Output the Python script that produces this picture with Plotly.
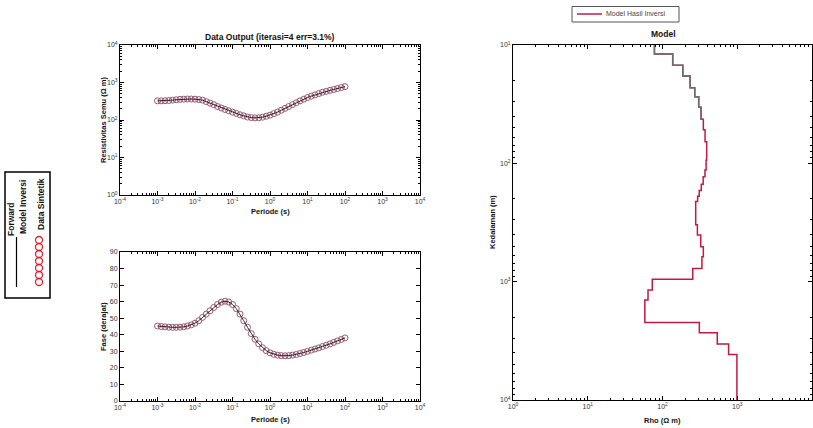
import plotly.graph_objects as go

# ---------------- data ----------------
periods = [
    0.001000, 0.001259, 0.001585, 0.001995, 0.002512, 0.003162, 0.003981, 0.005012, 0.006310, 0.007943,
    0.01000, 0.01259, 0.01585, 0.01995, 0.02512, 0.03162, 0.03981, 0.05012, 0.06310, 0.07943,
    0.1000, 0.1259, 0.1585, 0.1995, 0.2512, 0.3162, 0.3981, 0.5012, 0.6310, 0.7943,
    1.000, 1.259, 1.585, 1.995, 2.512, 3.162, 3.981, 5.012, 6.310, 7.943,
    10.00, 12.59, 15.85, 19.95, 25.12, 31.62, 39.81, 50.12, 63.10, 79.43,
    100.0,
]
app_res = [
    324, 324, 327, 331, 339, 347, 355, 359, 363, 363,
    359, 351, 339, 309, 282, 257, 229, 209, 191, 176,
    162, 150, 138, 129, 120, 116, 114, 115, 119, 126,
    135, 148, 162, 182, 204, 229, 257, 288, 324, 359,
    398, 432, 468, 507, 550, 582, 617, 653, 692, 733,
    776,
]
phase = [
    45.3, 45.0, 44.8, 44.6, 44.5, 44.5, 44.6, 44.8, 45.3, 46.0,
    47.0, 48.5, 50.5, 52.5, 54.5, 56.5, 58.3, 59.7, 60.3, 59.8,
    58.3, 55.8, 52.5, 48.5, 44.5, 40.7, 37.3, 34.5, 32.2, 30.4,
    29.1, 28.2, 27.7, 27.4, 27.3, 27.4, 27.7, 28.1, 28.7, 29.3,
    30.0, 30.7, 31.4, 32.1, 32.9, 33.7, 34.5, 35.4, 36.3, 37.2,
    38.1,
]
# forward response of the inverted model (drawn as line)
app_res_fwd = app_res
phase_fwd = phase

# layered model: top depth of each layer (m) and resistivity (ohm m)
layer_top = [10, 11.9, 14.8, 18.3, 23, 27.4, 33.6, 42.5, 52, 65.6,
             94, 114, 130, 150, 170, 190, 210, 330, 403, 507,
             616, 773, 955, 1177, 1430, 2210, 2700, 3370, 4120]
layer_rho = [78, 137, 187, 234, 270, 305, 328, 352, 371, 390,
             383, 370, 350, 330, 310, 295, 278, 293, 325, 352,
             337, 254, 73, 64, 58, 311, 540, 766, 990]
model_bottom = 10000

period_exps = [-4, -3, -2, -1, 0, 1, 2, 3, 4]
res_exps = [0, 1, 2, 3, 4]
rho_exps = [0, 1, 2, 3, 4]
depth_exps = [1, 2, 3, 4]
phase_ticks = [0, 10, 20, 30, 40, 50, 60, 70, 80, 90]

title_left = "Data Output (iterasi=4 err=3.1%)"
title_right = "Model"

W, H = 813, 428
FONT = "Liberation Sans, Arial, sans-serif"
RED = "#c01a45"


def px(x):
    return x / W


def py(y):
    return 1 - y / H


def pow_ticks(exps):
    return [10.0 ** e for e in exps], [f"10<sup>{e}</sup>" for e in exps]


def minor_vals(exps):
    return [m * 10.0 ** e for e in exps[:-1] for m in range(2, 10)]


fig = go.Figure()

# ---- apparent resistivity ----
fig.add_trace(go.Scatter(x=periods, y=app_res, mode="markers",
                         marker=dict(symbol="circle-open", size=6, color="#9a5a72",
                                     line=dict(width=1)),
                         xaxis="x", yaxis="y", showlegend=False, name="Data Sintetik"))
fig.add_trace(go.Scatter(x=periods, y=app_res_fwd, mode="lines",
                         line=dict(color="black", width=0.8),
                         xaxis="x", yaxis="y", showlegend=False, name="Forward Model Inversi"))
# ---- phase ----
fig.add_trace(go.Scatter(x=periods, y=phase, mode="markers",
                         marker=dict(symbol="circle-open", size=6, color="#9a5a72",
                                     line=dict(width=1)),
                         xaxis="x2", yaxis="y2", showlegend=False, name="Data Sintetik"))
fig.add_trace(go.Scatter(x=periods, y=phase_fwd, mode="lines",
                         line=dict(color="black", width=0.8),
                         xaxis="x2", yaxis="y2", showlegend=False, name="Forward Model Inversi"))

# ---- model ----
mx = layer_rho + [layer_rho[-1]]
my = layer_top + [model_bottom]
fig.add_trace(go.Scatter(x=mx, y=my, mode="lines", line_shape="vh",
                         line=dict(color=RED, width=1.5),
                         xaxis="x3", yaxis="y3", showlegend=False,
                         name="Model Hasil Inversi"))
fig.add_trace(go.Scatter(x=mx[:8], y=my[:8], mode="lines", line_shape="vh",
                         line=dict(color="#6e6e6e", width=1.5),
                         xaxis="x3", yaxis="y3", showlegend=False, name="Model"))

axis_common = dict(showline=True, linecolor="black", linewidth=1, mirror="allticks",
                   ticks="inside", ticklen=4, tickcolor="black", showgrid=False,
                   zeroline=False, automargin=False,
                   tickfont=dict(size=7, color="#333", family=FONT))


def log_minor(exps):
    return dict(tickmode="array", tickvals=minor_vals(exps), ticks="inside", ticklen=2,
                tickcolor="black", showgrid=False)


pv, pt = pow_ticks(period_exps)
rv, rt = pow_ticks(res_exps)
hv, ht = pow_ticks(rho_exps)
dv, dt = pow_ticks(depth_exps)

fig.update_layout(
    width=W, height=H, margin=dict(l=0, r=0, t=0, b=0, autoexpand=False),
    paper_bgcolor="white", plot_bgcolor="white", showlegend=False,
    font=dict(family=FONT, color="#222"),
    xaxis=dict(domain=[px(120), px(420)], anchor="y", type="log", range=[-4, 4],
               tickvals=pv, ticktext=pt, minor=log_minor(period_exps), **axis_common),
    yaxis=dict(domain=[py(195), py(45)], anchor="x", type="log", range=[0, 4],
               tickvals=rv, ticktext=rt, minor=log_minor(res_exps), **axis_common),
    xaxis2=dict(domain=[px(120), px(420)], anchor="y2", type="log", range=[-4, 4],
                tickvals=pv, ticktext=pt, minor=log_minor(period_exps), **axis_common),
    yaxis2=dict(domain=[py(401), py(252)], anchor="x2", range=[0, 90],
                tickvals=phase_ticks, **axis_common),
    xaxis3=dict(domain=[px(513), px(812)], anchor="y3", type="log", range=[0, 4],
                tickvals=hv, ticktext=ht, minor=log_minor(rho_exps), **axis_common),
    yaxis3=dict(domain=[py(400), py(45)], anchor="x3", type="log", range=[4, 1],
                tickvals=dv, ticktext=dt, minor=log_minor(depth_exps), **axis_common),
)

ann = []


def add_text(text, x, y, size=8, angle=0, bold=True, color="#111", **kw):
    t = f"<b>{text}</b>" if bold else text
    ann.append(dict(text=t, x=px(x), y=py(y), xref="paper", yref="paper",
                    showarrow=False, textangle=angle, xanchor="center", yanchor="middle",
                    font=dict(size=size, family=FONT, color=color), **kw))


add_text(title_left, 270, 37, size=8.5)
add_text("Periode (s)", 270, 212, size=7.5)
add_text("Periode (s)", 270, 419, size=7.5)
add_text("Resistivitas Semu (Ω m)", 103, 120, size=7.5, angle=-90)
add_text("Fase (derajat)", 103, 327, size=7.5, angle=-90)
add_text(title_right, 663, 34, size=8.5)
add_text("Kedalaman (m)", 492, 222, size=7.5, angle=-90)
add_text("Rho (Ω m)", 662, 420, size=7.5)

# top-right legend (drawn)
ann.append(dict(text="Model Hasil Inversi", x=px(604), y=py(14), xref="paper", yref="paper",
                showarrow=False, xanchor="left", yanchor="middle",
                font=dict(size=7, family=FONT, color="#444")))

# rotated side legend (left)
add_text("Forward", 11, 219, size=8.5, angle=-90)
add_text("Model Inversi", 23, 207, size=8.5, angle=-90)
add_text("Data Sintetik", 41, 204, size=8.5, angle=-90)

shapes = [
    dict(type="rect", xref="paper", yref="paper", x0=px(572), x1=px(679), y0=py(22), y1=py(6.5),
         line=dict(color="#555", width=1), fillcolor="white"),
    dict(type="line", xref="paper", yref="paper", x0=px(577), x1=px(602), y0=py(14), y1=py(14),
         line=dict(color=RED, width=1.5)),
    dict(type="rect", xref="paper", yref="paper", x0=px(5), x1=px(50), y0=py(298), y1=py(172),
         line=dict(color="black", width=1.5)),
    dict(type="line", xref="paper", yref="paper", x0=px(16.5), x1=px(16.5), y0=py(287), y1=py(237),
         line=dict(color="black", width=1.2)),
]
for i in range(7):
    cy = 240 + i * 7
    shapes.append(dict(type="circle", xref="paper", yref="paper",
                       x0=px(35.5), x1=px(42.5), y0=py(cy + 3.5), y1=py(cy - 3.5),
                       line=dict(color="#e0202a", width=1.3)))

fig.update_layout(annotations=ann, shapes=shapes)
fig.write_html("out.html")
